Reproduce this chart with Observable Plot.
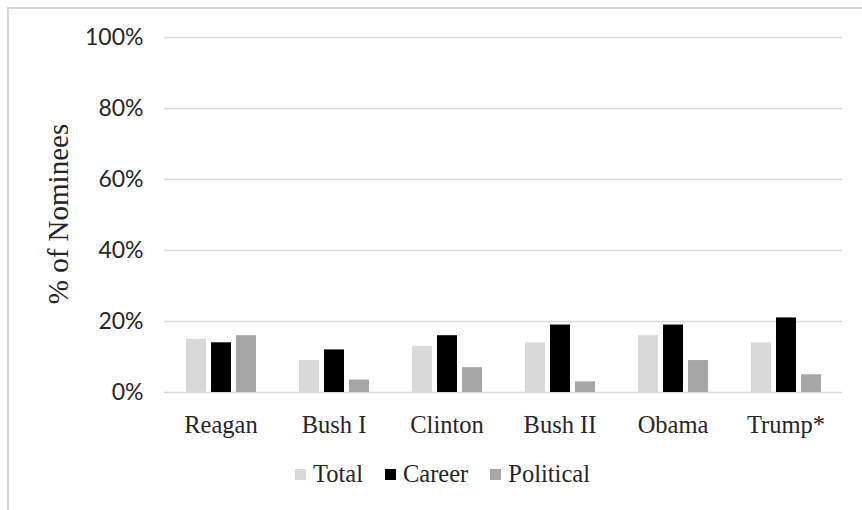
<!DOCTYPE html>
<html>
<head>
<meta charset="utf-8">
<script src="https://cdn.jsdelivr.net/npm/d3@7"></script>
<script src="https://cdn.jsdelivr.net/npm/@observablehq/plot@0.6"></script>
<style>
  html, body { margin: 0; padding: 0; background: #fff; }
  #wrap { position: relative; width: 862px; height: 510px; overflow: hidden; }
  #frame { position: absolute; left: 7px; top: 7px; width: 900px; height: 560px;
           border-left: 2px solid #d9d9d9; border-top: 2px solid #d9d9d9; }
  #chart { position: absolute; left: 0; top: 0; }
  #chart svg { font-family: "Liberation Serif", serif; font-size: 24.5px; color: #262626; }
  #chart svg [aria-label^="y-axis"] text { font-family: Lato, "Open Sans", sans-serif; font-size: 23px; fill: #262626; }
  #ylabel { position: absolute; left: 58px; top: 214px; transform: translate(-50%, -50%) rotate(-90deg);
            font-family: "Liberation Serif", serif; font-size: 29px; color: #262626; white-space: nowrap; }
  #legend { position: absolute; left: 295px; top: 460px; display: flex; align-items: center;
            font-family: "Liberation Serif", serif; font-size: 24.5px; color: #262626; line-height: 28px; }
  #legend .item { display: flex; align-items: center; margin-right: 22px; }
  #legend .sw { width: 11px; height: 11px; margin-right: 7px; display: inline-block; }
</style>
</head>
<body>
<div id="wrap">
  <div id="frame"></div>
  <div id="chart"></div>
  <div id="ylabel">% of Nominees</div>
  <div id="legend"></div>
</div>
<script>
// Share of nominees by administration
const presidents = ["Reagan", "Bush I", "Clinton", "Bush II", "Obama", "Trump*"];
const series = ["Total", "Career", "Political"];
const total = [15, 9, 13, 14, 16, 14];
const career = [14, 12, 16, 19, 19, 21];
const political = [16, 3.5, 7, 3, 9, 5];
const colors = ["#d9d9d9", "#000000", "#a6a6a6"];
const yTicks = [0, 0.2, 0.4, 0.6, 0.8, 1];

const seriesValues = [total, career, political];
const rows = presidents.flatMap((p, i) =>
  series.map((s, j) => ({president: p, series: s, value: seriesValues[j][i] / 100}))
);

const chart = Plot.plot({
  width: 862,
  height: 450,
  marginLeft: 163,
  marginRight: 19,
  marginTop: 37,
  marginBottom: 58,
  facet: {data: rows, x: "president"},
  fx: {domain: presidents, padding: 0, label: null, tickSize: 0, tickPadding: 23},
  x: {domain: series, axis: null, paddingInner: 0.22, paddingOuter: 0.86},
  y: {domain: [0, 1], ticks: yTicks, tickFormat: d3.format(".0%"), tickSize: 0, tickPadding: 21, label: null},
  color: {domain: series, range: colors},
  marks: [
    Plot.ruleY(yTicks, {stroke: "#d9d9d9", strokeWidth: 1.5}),
    Plot.barY(rows, {x: "series", y: "value", fill: "series"})
  ]
});
document.getElementById("chart").appendChild(chart);

// Legend built from the same series and colours
const legend = d3.select("#legend");
series.forEach((s, i) => {
  const item = legend.append("div").attr("class", "item");
  item.append("span").attr("class", "sw").style("background", colors[i]);
  item.append("span").text(s);
});
</script>
</body>
</html>
